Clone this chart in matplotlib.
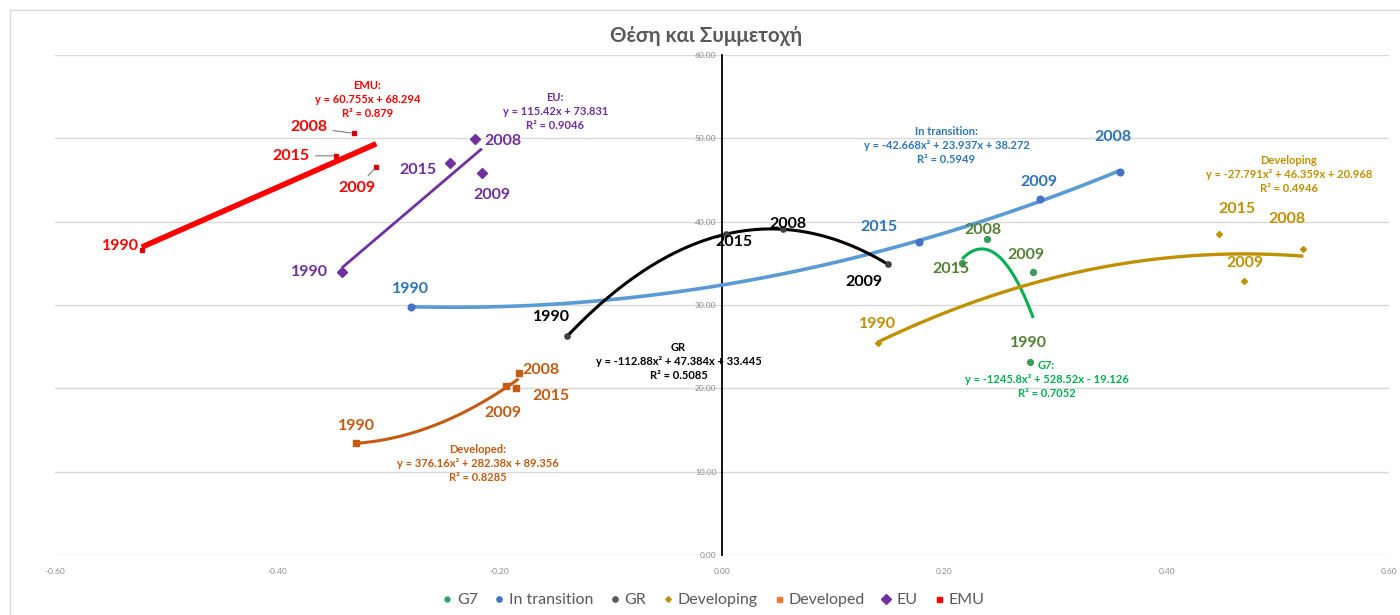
import numpy as np
import matplotlib
matplotlib.use("Agg")
from matplotlib import pyplot as plt
from matplotlib.lines import Line2D
from matplotlib.patches import Rectangle

plt.rcParams['font.family'] = ['Lato', 'Noto Sans', 'DejaVu Sans']

years = ['1990', '2008', '2009', '2015']

# valores, orden de years
g7_x = [0.277, 0.238, 0.280, 0.216]
g7_y = [23.2, 37.9, 34.0, 35.0]
trans_x = [-0.280, 0.358, 0.286, 0.177]
trans_y = [29.8, 46.0, 42.7, 37.6]
gr_x = [-0.139, 0.055, 0.149, 0.004]
gr_y = [26.3, 39.1, 34.9, 38.5]
devg_x = [0.140, 0.523, 0.470, 0.447]
devg_y = [25.5, 36.7, 32.9, 38.5]
devd_x = [-0.329, -0.183, -0.194, -0.185]
devd_y = [13.4, 21.9, 20.3, 20.0]
eu_x = [-0.342, -0.2225, -0.216, -0.245]
eu_y = [34.0, 49.9, 45.8, 47.0]
emu_x = [-0.522, -0.331, -0.311, -0.347]
emu_y = [36.6, 50.6, 46.6, 47.9]

names = ['G7', 'In transition', 'GR', 'Developing', 'Developed', 'EU', 'EMU']
equations = [
    'G7:\ny = -1245.8x\u00b2 + 528.52x - 19.126\nR\u00b2 = 0.7052',
    'In transition:\ny = -42.668x\u00b2 + 23.937x + 38.272\nR\u00b2 = 0.5949',
    'GR\ny = -112.88x\u00b2 + 47.384x + 33.445\nR\u00b2 = 0.5085',
    'Developing\ny = -27.791x\u00b2 + 46.359x + 20.968\nR\u00b2 = 0.4946',
    'Developed:\ny = 376.16x\u00b2 + 282.38x + 89.356\nR\u00b2 = 0.8285',
    'EU:\ny = 115.42x + 73.831\nR\u00b2 = 0.9046',
    'EMU:\ny = 60.755x + 68.294\nR\u00b2 = 0.879',
]

series = [
    # x, y, grado, marcador, tam, color marcador, color linea, color texto, ancho
    (g7_x, g7_y, 2, 'o', 4.2, '#3d9b5c', '#00b050', '#548235', 2.2),
    (trans_x, trans_y, 2, 'o', 4.8, '#4472c4', '#5b9bd5', '#2e75b6', 2.6),
    (gr_x, gr_y, 2, 'o', 3.8, '#404040', 'black', 'black', 2.2),
    (devg_x, devg_y, 2, 'D', 3, '#bf9000', '#bf9000', '#bf9000', 2.4),
    (devd_x, devd_y, 2, 's', 3.8, '#c55a11', '#c55a11', '#c55a11', 2.2),
    (eu_x, eu_y, 1, 'D', 5.5, '#7030a0', '#7030a0', '#7030a0', 2.0),
    (emu_x, emu_y, 1, 's', 3.4, '#d80000', '#ff0000', '#ff0000', 4.0),
]
eq_colors = ['#00b050', '#2e75b6', 'black', '#bf9000', '#c55a11', '#7030a0', '#ff0000']
legend_colors = ['#33a060', '#4472c4', '#595959', '#bf9000', '#ed7d31', '#7030a0', '#ff0000']
legend_sizes = [3.5, 3.8, 3.8, 2.8, 3.6, 5.5, 3.6]

# desplazamiento de las etiquetas de cada año (px)
label_off = [
    [(-1, 19), (-4, 9), (-7, 17), (-11, -6)],
    [(0, 18), (-7, 35), (-1, 17), (-40, 15)],
    [(-16, 19), (5, 5), (-24, -18), (7, -8)],
    [(0, 19), (-16, 30), (0, 18), (18, 25)],
    [(0, 17), (22, 2), (-3, -27), (35, -8)],
    [(-32, 0), (28, -2), (10, -22), (-32, -7)],
    [(-21, 4), (-45, 6), (-19, -21), (-45, 0)],
]
# posicion de las ecuaciones
eq_pos = [(0.292, 21.1), (0.202, 49.1), (-0.039, 23.2), (0.510, 45.7),
          (-0.220, 11.0), (-0.150, 53.2), (-0.319, 54.7)]

fig = plt.figure(figsize=(14, 6.15), dpi=100)
ax = fig.add_axes([55/1400, 60/615, 1334/1400, 500/615])
ax.set_xlim(-0.6, 0.6)
ax.set_ylim(0, 60)
ax.set_xticks(np.arange(-0.6, 0.61, 0.2))
ax.set_yticks(np.arange(0, 61, 10))
ax.xaxis.set_major_formatter(lambda v, p: '%.2f' % v)
ax.yaxis.set_major_formatter(lambda v, p: '%.2f' % v)
ax.tick_params(length=0, labelsize=6, labelcolor='#8c8c8c')
ax.tick_params(axis='x', pad=9)
ax.tick_params(axis='y', pad=4)
for s in ['top', 'right', 'bottom']:
    ax.spines[s].set_visible(False)
ax.spines['left'].set_position(('data', 0))
ax.spines['left'].set_color('black')
ax.spines['left'].set_linewidth(1.3)
ax.spines['left'].set_zorder(1)
ax.yaxis.grid(True, color='#d9d9d9', lw=1)
ax.set_axisbelow(True)

for k, (xs, ys, deg, mk, ms, mc, lc, tc, lw) in enumerate(series):
    xs = np.array(xs)
    ys = np.array(ys)
    ax.plot(xs, ys, ls='none', marker=mk, ms=ms, color=mc, zorder=3)
    coef = np.polyfit(xs, ys, deg)
    xx = np.linspace(xs.min(), xs.max(), 100)
    ax.plot(xx, np.polyval(coef, xx), color=lc, lw=lw, solid_capstyle='butt', zorder=2)
    for j, yr in enumerate(years):
        dx, dy = label_off[k][j]
        if names[k] == 'EMU' and yr != '1990':
            ax.annotate(yr, (xs[j], ys[j]), xytext=(dx*0.72, dy*0.72), textcoords='offset points',
                        ha='center', va='center', fontsize=11.5, fontweight='bold', color=tc,
                        arrowprops=dict(arrowstyle='-', color='#7f7f7f', lw=0.8, shrinkA=2, shrinkB=2),
                        zorder=4)
        else:
            ax.annotate(yr, (xs[j], ys[j]), xytext=(dx*0.72, dy*0.72), textcoords='offset points',
                        ha='center', va='center', fontsize=11.5, fontweight='bold', color=tc, zorder=4)
    ax.text(eq_pos[k][0], eq_pos[k][1], equations[k], ha='center', va='center', fontsize=8,
            fontweight='bold', color=eq_colors[k], linespacing=1.35, zorder=4)

fig.text(706/1400, 1 - 36/615, 'Θέση και Συμμετοχή', ha='center', va='center',
         fontsize=14.8, fontweight='bold', color='#595959')

handles = []
for k, nm in enumerate(names):
    handles.append(Line2D([], [], ls='none', marker=series[k][3], ms=legend_sizes[k],
                          color=legend_colors[k], label=nm))
fig.legend(handles=handles, loc='center', bbox_to_anchor=(713/1400, 15/615), ncol=7,
           frameon=False, fontsize=11.5, labelcolor='#595959', handletextpad=0.25,
           columnspacing=1.0, handlelength=0.7)

fig.patches.append(Rectangle((10/1400, -0.01), 1, 1 - 10/615 + 0.01, transform=fig.transFigure,
                             fill=False, edgecolor='#d9d9d9', lw=1))

fig.savefig('out.png', dpi=100)
